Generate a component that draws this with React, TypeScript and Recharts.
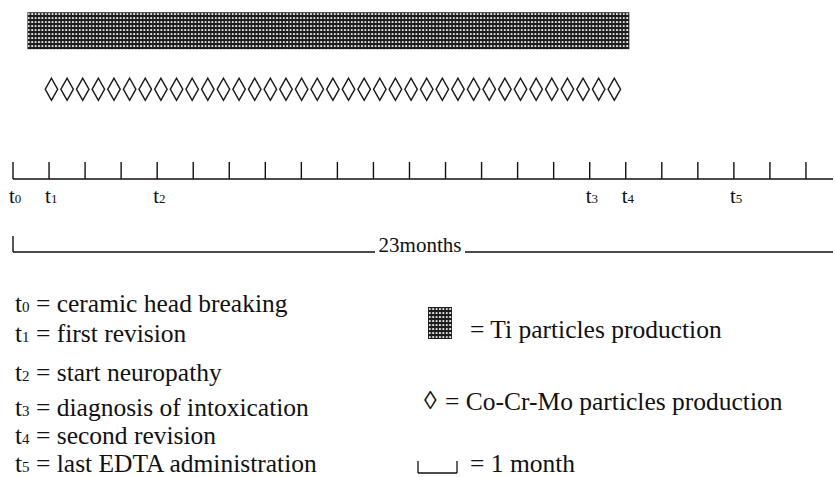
import { BarChart, Bar, XAxis, YAxis } from "recharts";

const FONT = "'Liberation Serif', 'Times New Roman', Times, serif";
const SERIF = { fontFamily: FONT };

// month ticks on the timeline (t0 = month 0)
const MONTHS = [0, 1, 2, 3, 4, 5, 6, 7, 8, 9, 10, 11, 12, 13, 14, 15, 16, 17, 18, 19, 20, 21, 22];
const MONTH_COUNT = 23;
const TIMELINE_END = 22.75;

const EVENTS = [
  { id: "0", month: 0, desc: "ceramic head breaking" },
  { id: "1", month: 1, desc: "first revision" },
  { id: "2", month: 4, desc: "start neuropathy" },
  { id: "3", month: 16, desc: "diagnosis of intoxication" },
  { id: "4", month: 17, desc: "second revision" },
  { id: "5", month: 20, desc: "last EDTA administration" },
];

// particle production periods, in months from t0
const PRODUCTION = [
  { name: "Ti", label: "Ti particles production", range: [0.4, 17.1] },
  { name: "Co-Cr-Mo", label: "Co-Cr-Mo particles production", range: [0.85, 16.9] },
];

// legend layout (baselines inside the legend box)
const EVENT_ROWS = [27, 57, 96, 131, 159, 187];
const LEGEND_SIZE = 25.5;

const DIAMOND_PITCH = 15.65;

function DotPattern({ id, x = 0, y = 0 }: { id: string; x?: number; y?: number }) {
  return (
    <pattern id={id} x={x} y={y} width={3.4} height={4} patternUnits="userSpaceOnUse">
      <rect width={3.4} height={4} fill="#1c1c1c" />
      <rect x={0.9} y={1.2} width={1.8} height={1.7} fill="#fff" />
    </pattern>
  );
}

function ProductionShape(props: any) {
  const { x, y, width, height, payload } = props;
  if (payload.name === "Ti") {
    return <rect x={x} y={y} width={width} height={height} fill="url(#tiDots)" />;
  }
  const n = Math.max(1, Math.round(width / DIAMOND_PITCH));
  const pitch = width / n;
  const cy = y + height / 2;
  const hw = 6.2;
  const hh = 11;
  const items = [];
  for (let i = 0; i < n; i++) {
    const cx = x + pitch * (i + 0.5);
    items.push(
      <polygon
        key={i}
        points={`${cx},${cy - hh} ${cx + hw},${cy} ${cx},${cy + hh} ${cx - hw},${cy}`}
        fill="none"
        stroke="#1a1a1a"
        strokeWidth={1.5}
      />
    );
  }
  return <g>{items}</g>;
}

function MonthTick(props: any) {
  const { x, y, payload } = props;
  const ev = EVENTS.find((e) => e.month === payload.value);
  return (
    <g>
      <line x1={x} y1={y - 17} x2={x} y2={y} stroke="#111" strokeWidth={1.4} />
      {ev && (
        <text x={x - 4} y={y + 24} style={SERIF} fontSize={21} fill="#111">
          <tspan style={SERIF}>t</tspan>
          <tspan style={SERIF} fontSize={13}>{ev.id}</tspan>
        </text>
      )}
    </g>
  );
}

function SpanTick(props: any) {
  const { x, y, payload } = props;
  if (payload.value === 0) {
    return <line x1={x} y1={y - 16} x2={x} y2={y} stroke="#111" strokeWidth={1.4} />;
  }
  return (
    <g>
      <rect x={x - 48} y={y - 22} width={90} height={26} fill="#fff" />
      <text x={x - 3} y={y} textAnchor="middle" style={SERIF} fontSize={21} fill="#111">
        {`${MONTH_COUNT}months`}
      </text>
    </g>
  );
}

function EventLegend() {
  return (
    <svg width={835} height={192} style={{ display: "block" }}>
      <defs>
        <DotPattern id="tiSwatch" x={428} y={22} />
      </defs>
      {EVENTS.map((e, i) => (
        <text key={e.id} x={15} y={EVENT_ROWS[i]} style={SERIF} fontSize={LEGEND_SIZE} fill="#111">
          <tspan style={SERIF}>t</tspan>
          <tspan style={SERIF} fontSize={15}>{e.id}</tspan>
          <tspan style={SERIF}>{` = ${e.desc}`}</tspan>
        </text>
      ))}
      <rect x={428} y={22} width={24} height={32} fill="url(#tiSwatch)" />
      <text x={470} y={53} style={SERIF} fontSize={LEGEND_SIZE} fill="#111">
        {`= ${PRODUCTION[0].label}`}
      </text>
      <text x={424} y={124} style={SERIF} fontSize={LEGEND_SIZE} fill="#111">
        ◊
      </text>
      <text x={445} y={125} style={SERIF} fontSize={LEGEND_SIZE} fill="#111">
        {`= ${PRODUCTION[1].label}`}
      </text>
      <g stroke="#111" strokeWidth={1.3}>
        <line x1={418} y1={176} x2={418} y2={188} />
        <line x1={418} y1={188} x2={457} y2={188} />
        <line x1={457} y1={176} x2={457} y2={188} />
      </g>
      <text x={470} y={187} style={SERIF} fontSize={LEGEND_SIZE} fill="#111">
        = 1 month
      </text>
    </svg>
  );
}

export default function App() {
  return (
    <div style={{ position: "absolute", left: 0, top: 0, width: 835, height: 477, background: "#fff" }}>
      <BarChart
        width={835}
        height={285}
        data={PRODUCTION}
        layout="vertical"
        margin={{ top: 0, right: 2, bottom: 0, left: 13 }}
      >
        <defs>
          <DotPattern id="tiDots" x={27} y={12} />
        </defs>
        <YAxis
          type="category"
          dataKey="name"
          hide
          padding={{ top: 1.25, bottom: 60.75 }}
        />
        <XAxis
          xAxisId="months"
          type="number"
          domain={[0, TIMELINE_END]}
          allowDataOverflow
          ticks={MONTHS}
          interval={0}
          height={73}
          tickSize={0}
          tickMargin={0}
          tickLine={false}
          axisLine={{ stroke: "#111", strokeWidth: 1.4 }}
          tick={<MonthTick />}
        />
        <XAxis
          xAxisId="span"
          type="number"
          domain={[0, TIMELINE_END]}
          allowDataOverflow
          ticks={[0, TIMELINE_END / 2]}
          interval={0}
          height={33}
          tickSize={0}
          tickMargin={0}
          tickLine={false}
          axisLine={{ stroke: "#111", strokeWidth: 1.4 }}
          tick={<SpanTick />}
        />
        <Bar
          xAxisId="months"
          dataKey="range"
          barSize={37}
          shape={<ProductionShape />}
          isAnimationActive={false}
        />
      </BarChart>
      <EventLegend />
    </div>
  );
}
